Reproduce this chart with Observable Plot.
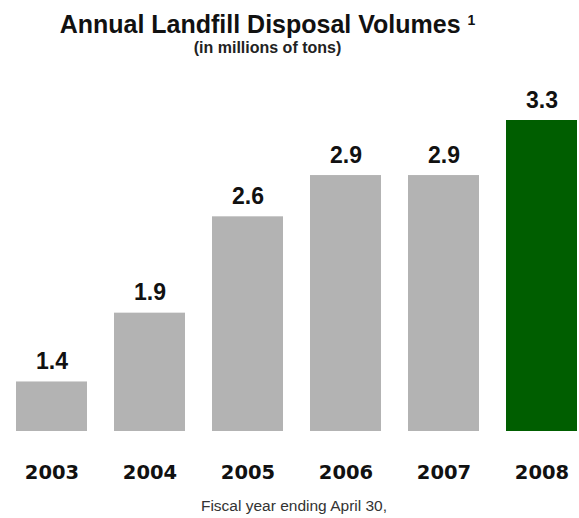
<!DOCTYPE html>
<html>
<head>
<meta charset="utf-8">
<script src="https://cdn.jsdelivr.net/npm/d3@7"></script>
<script src="https://cdn.jsdelivr.net/npm/@observablehq/plot@0.6"></script>
<style>
  html, body { margin: 0; padding: 0; background: #fff; }
  #chart { position: relative; width: 579px; height: 518px; overflow: hidden; font-family: "Liberation Sans", Arial, sans-serif; }
  .title { position: absolute; left: 0; width: 535px; top: 12px; height: 25px; text-align: center; font-size: 25px; font-weight: bold; line-height: 25px; color: #111; white-space: nowrap; }
  .title .sup { font-size: 14px; line-height: 14px; vertical-align: baseline; position: relative; top: -8px; }
  .subtitle { position: absolute; left: 0; width: 535px; top: 40px; text-align: center; font-size: 16px; font-weight: bold; line-height: 16px; color: #222; }
  .plot { position: absolute; left: 0; top: 70px; }
  .caption { position: absolute; left: 0; width: 588px; top: 498px; text-align: center; font-size: 15.5px; line-height: 15.5px; color: #333; }
</style>
</head>
<body>
<div id="chart">
  <div class="title">Annual Landfill Disposal Volumes <span class="sup">1</span></div>
  <div class="subtitle">(in millions of tons)</div>
  <div class="plot" id="plot"></div>
  <div class="caption">Fiscal year ending April 30,</div>
</div>
<script>
// Fiscal years and landfill disposal volumes (millions of tons)
const years = ["2003", "2004", "2005", "2006", "2007", "2008"];
const volumes = [1.4, 1.9, 2.6, 2.9, 2.9, 3.3];
const highlightYear = "2008";

// The value axis is not zero-based: bars rise from this floor
const yFloor = 1.04;

const gray = "#b3b3b3";
const green = "#005e00";

const data = years.map((year, i) => ({year, value: volumes[i]}));

const chart = Plot.plot({
  width: 579,
  height: 418,
  marginLeft: 15,
  marginRight: 0,
  marginTop: 50,
  marginBottom: 57,
  x: {domain: years, paddingInner: 0.274, paddingOuter: 0, axis: null},
  y: {domain: [yFloor, 3.3], axis: null},
  marks: [
    Plot.barY(data, {
      x: "year",
      y1: yFloor,
      y2: "value",
      fill: d => d.year === highlightYear ? green : gray
    }),
    Plot.text(data, {
      x: "year",
      y: "value",
      text: d => d.value.toFixed(1),
      dy: -13,
      lineAnchor: "bottom",
      fontSize: 23,
      fontWeight: "bold",
      fontFamily: "Liberation Sans, Arial, sans-serif",
      fill: "#111"
    }),
    Plot.text(data, {
      x: "year",
      text: "year",
      frameAnchor: "bottom",
      dy: 47,
      lineAnchor: "bottom",
      fontSize: 19.5,
      fontWeight: "bold",
      fontFamily: "DejaVu Sans, Verdana, sans-serif",
      fill: "#111"
    })
  ]
});

document.getElementById("plot").appendChild(chart);
</script>
</body>
</html>
